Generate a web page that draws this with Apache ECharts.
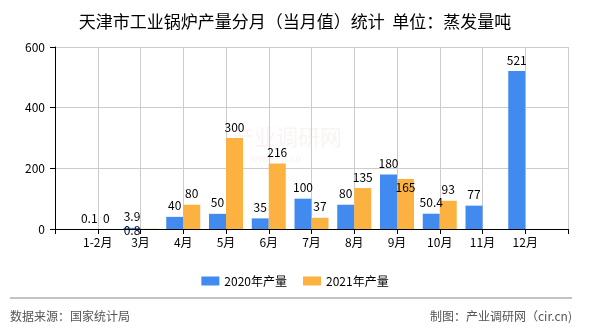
<!DOCTYPE html>
<html>
<head>
<meta charset="utf-8">
<script src="https://cdn.jsdelivr.net/npm/echarts@6/dist/echarts.min.js"></script>
<style>
html,body{margin:0;padding:0;background:#fff;}
#main{width:590px;height:330px;}
</style>
</head>
<body>
<div id="main"></div>
<script>
var categories = ['', '1-2月', '3月', '4月', '5月', '6月', '7月', '8月', '9月', '10月', '11月', '12月', ''];
var values2020 = [null, 0.1, 3.9, 40, 50, 35, 100, 80, 180, 50.4, 77, 521, null];
var values2021 = [null, 0, 0.8, 80, 300, 216, 37, 135, 165, 93, null, null, null];
var seriesNames = ['2020年产量', '2021年产量'];
var yTicks = [0, 200, 400, 600];

// label tweaks reproducing the reference's overlap handling (style only)
var labelShift2021 = {2: [-17, 13], 8: [0, 19]};

function buildData(vals, shifts) {
  return vals.map(function (v, i) {
    if (shifts && shifts[i]) {
      return {value: v, label: {offset: shifts[i]}};
    }
    return v;
  });
}

var chart = echarts.init(document.getElementById('main'), null, {renderer: 'canvas'});
var labelFont = {show: true, position: 'top', distance: 5, color: '#000', fontSize: 12, fontFamily: 'Noto Sans CJK SC'};

chart.setOption({
  animation: false,
  title: {
    text: '天津市工业锅炉产量分月（当月值）统计  单位：蒸发量吨',
    left: 'center', top: 8,
    textStyle: {fontSize: 17, fontWeight: 'normal', color: '#000', fontFamily: 'Noto Sans CJK SC'}
  },
  legend: {
    data: seriesNames,
    top: 270,
    left: 'center',
    itemWidth: 18, itemHeight: 9, itemGap: 16,
    icon: 'rect',
    textStyle: {fontSize: 12, color: '#000', fontFamily: 'Noto Sans CJK SC'}
  },
  grid: {left: 55, right: 22, top: 47, bottom: 101, containLabel: false},
  xAxis: {
    type: 'category',
    data: categories,
    boundaryGap: false,
    axisLine: {lineStyle: {color: '#000', width: 1}},
    axisTick: {show: true, length: 5, interval: 0, lineStyle: {color: '#000'}},
    axisLabel: {interval: 0, color: '#000', fontSize: 12, margin: 7, fontFamily: 'Noto Sans CJK SC'},
    splitLine: {show: true, interval: 0, lineStyle: {color: '#ccc'}}
  },
  yAxis: {
    type: 'value',
    min: yTicks[0], max: yTicks[yTicks.length - 1], interval: 200,
    axisLine: {show: true, lineStyle: {color: '#000'}},
    axisTick: {show: true, length: 5, lineStyle: {color: '#000'}},
    axisLabel: {color: '#000', fontSize: 12, margin: 10, fontFamily: 'Noto Sans CJK SC'},
    splitLine: {show: true, lineStyle: {color: '#ccc'}}
  },
  graphic: [
    {type: 'text', left: 232, top: 126, z: 0,
     style: {text: '产业调研网', fontSize: 22, fill: 'rgba(230,170,170,0.15)', fontFamily: 'Noto Sans CJK SC'}},
    {type: 'text', left: 250, top: 153, z: 0,
     style: {text: 'www.cir.cn', fontSize: 10, fill: 'rgba(230,170,170,0.15)', fontFamily: 'Noto Sans CJK SC'}},
    {type: 'line', shape: {x1: 10, y1: 298, x2: 572, y2: 298}, style: {stroke: '#888', lineWidth: 1}},
    {type: 'text', left: 10, top: 310,
     style: {text: '数据来源：国家统计局', fontSize: 12, fill: '#555', fontFamily: 'Noto Sans CJK SC'}},
    {type: 'text', right: 18, top: 310,
     style: {text: '制图：产业调研网（cir.cn)', fontSize: 12, fill: '#555', fontFamily: 'Noto Sans CJK SC'}}
  ],
  series: [
    {
      name: seriesNames[0], type: 'bar', barWidth: 17, barGap: '0%',
      itemStyle: {color: '#418BF0'},
      label: labelFont,
      data: buildData(values2020, null)
    },
    {
      name: seriesNames[1], type: 'bar', barWidth: 17, barGap: '0%',
      itemStyle: {color: '#FBB241'},
      label: labelFont,
      data: buildData(values2021, labelShift2021)
    }
  ]
});
</script>
</body>
</html>
